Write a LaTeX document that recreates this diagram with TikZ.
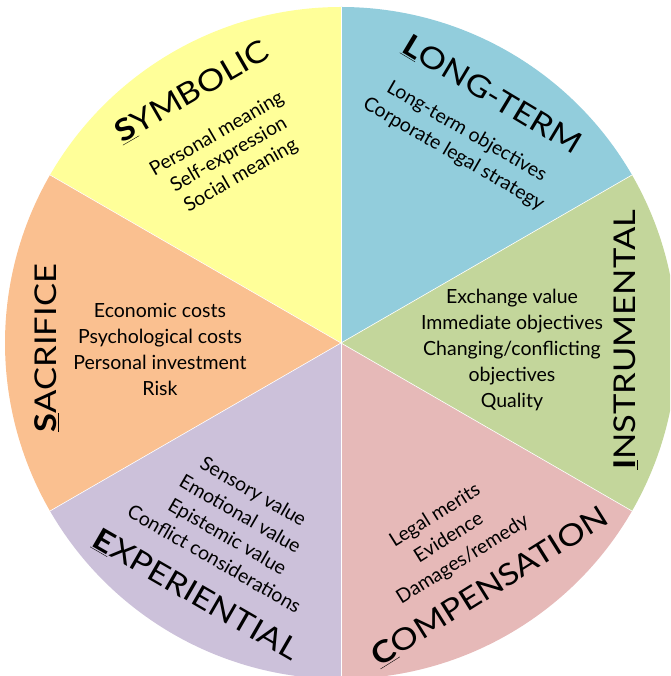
\documentclass[tikz,border=0pt]{standalone}
\usepackage{fontspec}
\setmainfont{Lato}
\newfontfamily\ttlfont[FakeStretch=1.15]{Lato}
\definecolor{cSym}{HTML}{FFFF99}
\definecolor{cLong}{HTML}{92CDDC}
\definecolor{cInst}{HTML}{C3D69B}
\definecolor{cComp}{HTML}{E6B9B8}
\definecolor{cExp}{HTML}{CCC1DA}
\definecolor{cSac}{HTML}{FAC090}
\newcommand\firstl[1]{\underline{\textbf{#1}}}
\tikzset{
  ttl/.style={inner sep=0pt, font=\ttlfont\fontsize{30}{34}\selectfont, text=black},
  body/.style={inner sep=0pt, align=center, font=\fontsize{19.5}{26}\selectfont, text=black},
  sep/.style={draw=white, line width=0.6pt}
}
\begin{document}
\begin{tikzpicture}[x=1pt,y=1pt]
\useasboundingbox (0,0) rectangle (670,676);
\clip (0,0) rectangle (670,676);
\coordinate (C) at (341,333);
\def\R{336}
\fill[cLong] (C) -- ++(30:\R) arc[start angle=30, end angle=90, radius=\R] -- cycle;
\fill[cSym] (C) -- ++(90:\R) arc[start angle=90, end angle=150, radius=\R] -- cycle;
\fill[cSac] (C) -- ++(150:\R) arc[start angle=150, end angle=210, radius=\R] -- cycle;
\fill[cExp] (C) -- ++(210:\R) arc[start angle=210, end angle=270, radius=\R] -- cycle;
\fill[cComp] (C) -- ++(270:\R) arc[start angle=270, end angle=330, radius=\R] -- cycle;
\fill[cInst] (C) -- ++(-30:\R) arc[start angle=-30, end angle=30, radius=\R] -- cycle;
\foreach \a in {30,90,150,210,270,330} \draw[sep] (C) -- ++(\a:\R);

% titles
\node[ttl, rotate=30] (symT) at (192,584) {\firstl{S}YMBOLIC};
\node[ttl, rotate=-31] (longT) at (492,581) {\firstl{L}ONG-TERM};
\node[ttl, rotate=90] (instT) at (626,336) {\firstl{I}NSTRUMENTAL};
\node[ttl, rotate=32] (compT) at (490,89) {\firstl{C}OMPENSATION};
\node[ttl, rotate=-30] (expT) at (196,81) {\firstl{E}XPERIENTIAL};
\node[ttl, rotate=90] (sacT) at (47,328) {\firstl{S}ACRIFICE};

% bodies
\node[body, rotate=30, font=\fontsize{19.5}{24}\selectfont] (symB) at (229,521) {Personal meaning\\Self-expression\\Social meaning};
\node[body, rotate=-30] (longB) at (460,533) {Long-term objectives\\Corporate legal strategy};
\node[body] (instB) at (512,326) {Exchange value\\Immediate objectives\\Changing/conflicting\\objectives\\Quality};
\node[body, rotate=32] (compB) at (449,138) {Legal merits\\Evidence\\Damages/remedy};
\node[body, rotate=-30] (expB) at (234,151) {Sensory value\\Emotional value\\Epistemic value\\Conflict considerations};
\node[body] (sacB) at (160,327) {Economic costs\\Psychological costs\\Personal investment\\Risk};
\end{tikzpicture}
\end{document}
